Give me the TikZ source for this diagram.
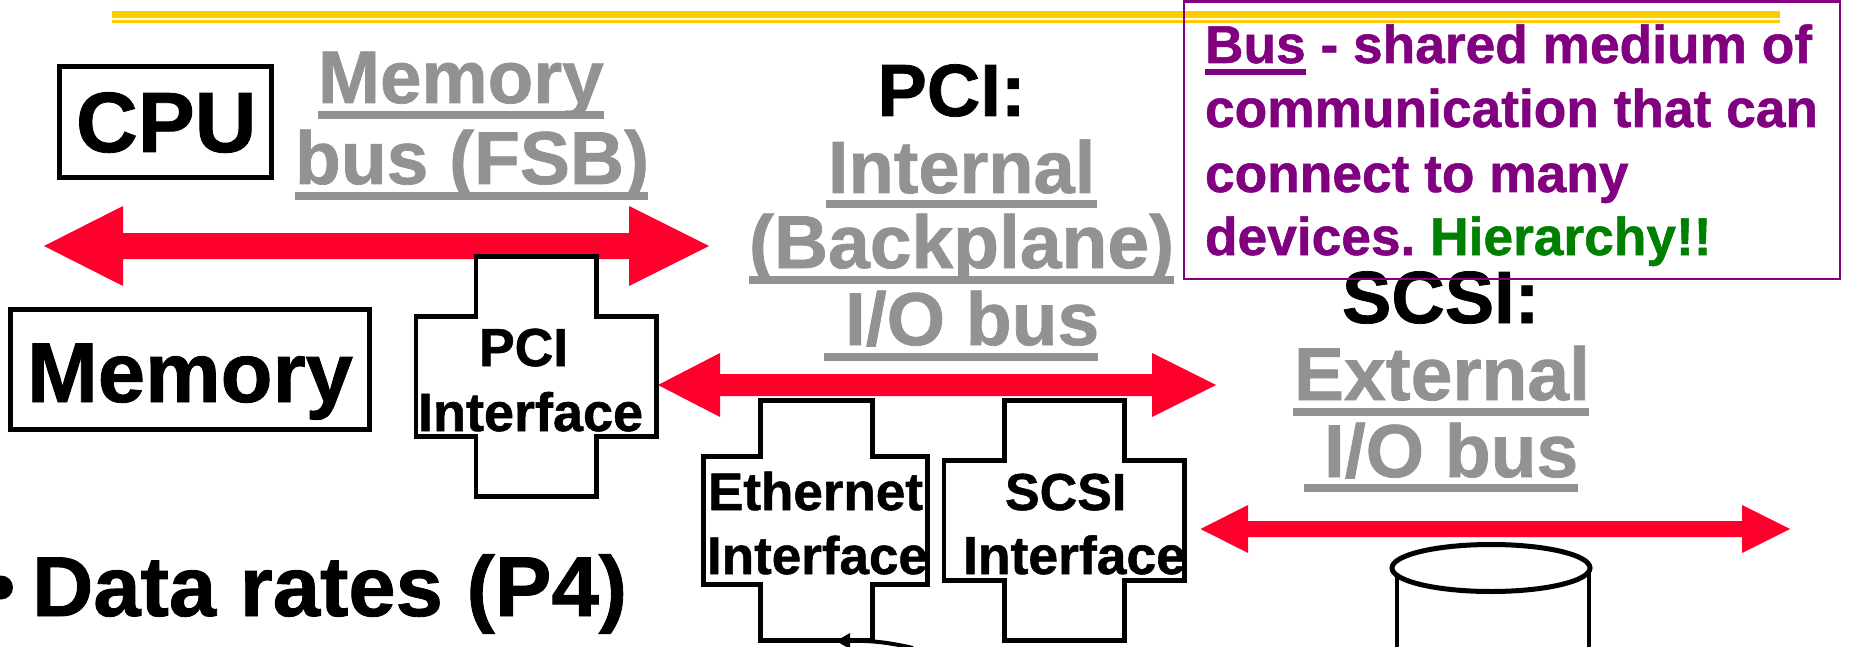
\documentclass[tikz,border=0pt]{standalone}
\usepackage{fontspec}
\setmainfont{Liberation Sans}[BoldFeatures={FakeBold=1.0}]
\definecolor{busred}{HTML}{FF002D}
\definecolor{labelgray}{HTML}{929292}
\definecolor{baryellow}{HTML}{FFCC00}
\definecolor{notepurple}{HTML}{800080}
\definecolor{notegreen}{HTML}{008000}
\newcommand{\sz}[1]{\fontsize{#1}{#1}\selectfont\bfseries}
\tikzset{
  txt/.style={anchor=base west,inner sep=0pt,outer sep=0pt},
  lbl/.style={txt,text=labelgray},
  note/.style={txt,text=notepurple},
  rule/.style={fill=labelgray,draw=none},
  outline/.style={draw=black,line width=4.8pt,fill=white,miter limit=10},
  framebox/.style={draw=black,line width=4.8pt,inner sep=0pt,outer sep=0pt,anchor=north west},
  bus/.style={fill=busred,draw=none}
}
\newcommand{\busarrow}[8]{% tipL baseL baseR tipR y headtop headbot half shaft
  \fill[bus] (#1,#5) -- (#2,#6) -- (#2,#5-#8) -- (#3,#5-#8) -- (#3,#6) -- (#4,#5)
    -- (#3,#7) -- (#3,#5+#8) -- (#2,#5+#8) -- (#2,#7) -- cycle;}
\newcommand{\crossbox}[8]{% xL xi xj xR y0 y1 y2 y3
  \draw[outline] (#2,#5) -- (#3,#5) -- (#3,#6) -- (#4,#6) -- (#4,#7) -- (#3,#7)
    -- (#3,#8) -- (#2,#8) -- (#2,#7) -- (#1,#7) -- (#1,#6) -- (#2,#6) -- cycle;}
\begin{document}
\begin{tikzpicture}[x=1pt,y=-1pt]
\useasboundingbox (0,0) rectangle (1851,647);
% title bar
\fill[baryellow] (112,11) rectangle (1780,18);
\fill[baryellow] (112,20.5) rectangle (1780,23);
% CPU and memory
\node[framebox,minimum width=212pt,minimum height=111pt] (cpubox) at (59.5,66.5) {};
\node[txt] (cpu) at (76,152) {\sz{85.5}CPU};
\node[framebox,minimum width=359pt,minimum height=120pt] (membox) at (10.5,309.5) {};
\node[txt] (mem) at (27,402) {\sz{85}Memory};
% Memory bus label
\node[lbl] (memlabel) at (318,103) {\sz{74.5}Memory};
\fill[rule] (317.5,111) rectangle (604,119);
\node[lbl] (fsb) at (295,184) {\sz{75}bus (FSB)};
\fill[rule] (295,192) rectangle (648,200);
% buses
\busarrow{44}{123}{629}{709}{246}{206}{286}{13}
\busarrow{658}{720}{1152}{1216}{385}{353}{417}{11}
\busarrow{1200.5}{1248}{1742}{1790}{529}{505}{553}{8}
% PCI interface
\crossbox{416}{476}{596.5}{656.5}{256.5}{316.5}{436.5}{496.5}
\node[txt] (pcii) at (479,366) {\sz{53.5}PCI};
\node[txt] (pcii2) at (418,431) {\sz{54}Interface};
% Ethernet interface
\crossbox{703.5}{760.5}{872.5}{927.5}{400.5}{456.5}{584.5}{640.5}
\node[txt] (eth) at (708,510) {\sz{53}Ethernet};
\node[txt] (eth2) at (707,574) {\sz{53}Interface};
% SCSI interface
\crossbox{944}{1004.5}{1124.5}{1184.5}{400.5}{460.5}{580.5}{640.5}
\node[txt] (scsii) at (1005,510) {\sz{52}SCSI};
\node[txt] (scsii2) at (963,574) {\sz{53.5}Interface};
% small arrow at the bottom
\coordinate (tipa) at (836,641);
\coordinate (taila) at (913,648);
\draw[line width=4pt] (849,641) .. controls (875,640) and (895,644) .. (taila);
\fill (tipa) -- (850,633) -- (850,649) -- cycle;
% PCI label
\node[txt] (pci) at (877.5,116) {\sz{74}PCI:};
\node[lbl] (internal) at (828,193) {\sz{74}Internal};
\fill[rule] (826,200) rectangle (1097,208);
\node[lbl] (backplane) at (749,268) {\sz{75}(Backplane)};
\fill[rule] (749,276) rectangle (1174,284);
\node[lbl] (iobus) at (845,345) {\sz{75}I/O bus};
\fill[rule] (824,353) rectangle (1098,361);
% SCSI label
\node[txt] (scsi) at (1342,323) {\sz{74}SCSI:};
\node[lbl] (external) at (1294,400) {\sz{75}External};
\fill[rule] (1293,408) rectangle (1589,416);
\node[lbl] (iobus2) at (1324,477) {\sz{75}I/O bus};
\fill[rule] (1304,484) rectangle (1578,492);
% disk
\draw[line width=4.6pt] (1397,572) -- (1397,650);
\draw[line width=4.6pt] (1589,572) -- (1589,650);
\draw[line width=5pt,fill=white] (1491,568) ellipse [x radius=99,y radius=23.5];
% data rates
\fill (1,587.5) circle [radius=12];
\node[txt] (rates) at (32,616) {\sz{85}Data rates (P4)};
% note
\node[note] (n1) at (1205,63) {\sz{53.3}Bus - shared medium of};
\fill[notepurple] (1205,69) rectangle (1306,75);
\node[note] (n2) at (1205,127) {\sz{53.3}communication that can};
\node[note] (n3) at (1205,192) {\sz{53.3}connect to many};
\node[note] (n4) at (1205,255) {\sz{53.3}devices.\hspace{-5pt} \textcolor{notegreen}{Hierarchy!!}};
\draw[notepurple,line width=2.6pt] (1184,1.5) rectangle (1840,279);
\end{tikzpicture}
\end{document}
